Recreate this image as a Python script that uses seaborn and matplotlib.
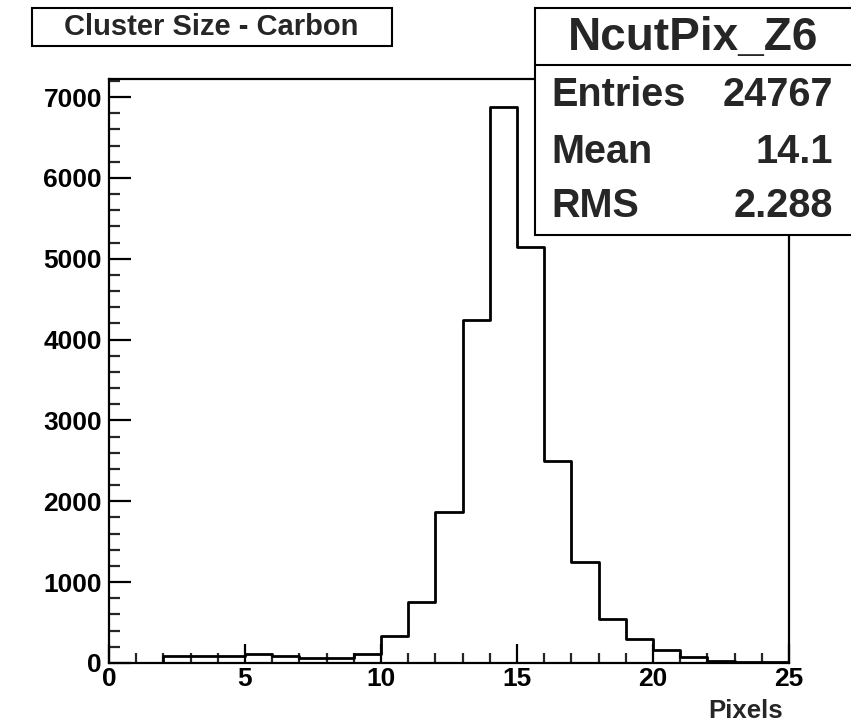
import numpy as np
import pandas as pd
import matplotlib
matplotlib.use("Agg")
import matplotlib.pyplot as plt
import matplotlib.patches as mpatches
from matplotlib.ticker import MultipleLocator
import seaborn as sns

# ---- data ----
bin_edges = list(range(0, 26))
counts = [0, 0, 83, 83, 83, 110, 83, 58, 58, 110,
          337, 757, 1864, 4247, 6880, 5140, 2500, 1250, 547, 293,
          160, 78, 20, 15, 12]
hist_name = "NcutPix_Z6"
title_text = "Cluster Size - Carbon"
xlabel_text = "Pixels"
stat_labels = ["Entries", "Mean", "RMS"]
stat_values = ["24767", "14.1", "2.288"]

centers = [(a + b) / 2 for a, b in zip(bin_edges[:-1], bin_edges[1:])]
df = pd.DataFrame({"x": centers, "w": counts})

sns.set_theme(style="ticks")
plt.rcParams["font.family"] = ["Liberation Sans", "DejaVu Sans"]
plt.rcParams["font.weight"] = "bold"

W, H = 851, 723
fig = plt.figure(figsize=(W / 100, H / 100), dpi=100)
fig.patch.set_facecolor("white")

ax_l, ax_r, ax_t, ax_b = 109, 789, 79, 663
ax = fig.add_axes([ax_l / W, (H - ax_b) / H, (ax_r - ax_l) / W, (ax_b - ax_t) / H])
ax.set_facecolor("white")

sns.histplot(data=df, x="x", weights="w", bins=bin_edges, element="step",
             fill=False, color="black", linewidth=2.0, ax=ax)

ax.set_xlim(0, 25)
ax.set_ylim(0, max(counts) * 1.05)
ax.set_ylabel("")
ax.set_xlabel("")

for s in ax.spines.values():
    s.set_visible(True)
    s.set_color("black")
    s.set_linewidth(1.6)

ax.xaxis.set_major_locator(MultipleLocator(5))
ax.xaxis.set_minor_locator(MultipleLocator(1))
ax.yaxis.set_major_locator(MultipleLocator(1000))
ax.yaxis.set_minor_locator(MultipleLocator(200))

ax.tick_params(axis="x", which="major", direction="in", length=13.5, width=1.6,
               labelsize=19, pad=3, colors="black")
ax.tick_params(axis="x", which="minor", direction="in", length=7, width=1.6)
ax.tick_params(axis="y", which="major", direction="in", length=16, width=1.6,
               labelsize=19, pad=5, colors="black")
ax.tick_params(axis="y", which="minor", direction="in", length=8, width=1.6)
for lab in ax.get_xticklabels() + ax.get_yticklabels():
    lab.set_fontweight("bold")

ax.set_xlabel(xlabel_text, fontsize=18.5, fontweight="bold", ha="right")
ax.xaxis.set_label_coords((783 - ax_l) / (ax_r - ax_l), (ax_b - 699) / (ax_b - ax_t))

# ---- title box ----
def fx(px):
    return px / W

def fy(py):
    return (H - py) / H

fig.patches.append(mpatches.Rectangle((fx(32), fy(46)), fx(392) - fx(32), fy(8) - fy(46),
                                      transform=fig.transFigure, facecolor="white",
                                      edgecolor="black", linewidth=1.5, zorder=5))
fig.text(fx(211), fy(27), title_text, ha="center", va="center", fontsize=21,
         fontweight="bold", zorder=6)

# ---- stats box ----
fig.patches.append(mpatches.Rectangle((fx(535), fy(235)), fx(870) - fx(535), fy(8) - fy(235),
                                      transform=fig.transFigure, facecolor="white",
                                      edgecolor="black", linewidth=1.5, zorder=5,
                                      clip_on=False))
fig.lines.append(matplotlib.lines.Line2D([fx(535), fx(851)], [fy(65), fy(65)],
                                         transform=fig.transFigure, color="black",
                                         linewidth=1.5, zorder=6))
fig.text(fx(693), fy(50), hist_name, ha="center", va="baseline", fontsize=33,
         fontweight="bold", zorder=7)
row_base = [106, 163, 217]
for lab, val, yb in zip(stat_labels, stat_values, row_base):
    fig.text(fx(551), fy(yb), lab, ha="left", va="baseline", fontsize=28.5,
             fontweight="bold", zorder=7)
    fig.text(fx(833), fy(yb), val, ha="right", va="baseline", fontsize=28.5,
             fontweight="bold", zorder=7)

fig.savefig("out.png", dpi=100, facecolor="white")
